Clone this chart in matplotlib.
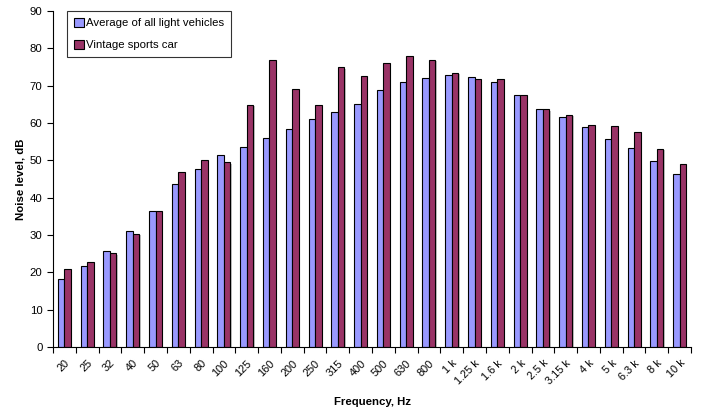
import numpy as np
import matplotlib
matplotlib.use("Agg")
import matplotlib.pyplot as plt
import matplotlib.patheffects as pe

plt.rcParams['font.family'] = ['Liberation Sans', 'DejaVu Sans']

freqs = ["20", "25", "32", "40", "50", "63", "80", "100", "125", "160", "200",
         "250", "315", "400", "500", "630", "800", "1 k", "1.25 k", "1.6 k",
         "2 k", "2.5 k", "3.15 k", "4 k", "5 k", "6.3 k", "8 k", "10 k"]
avg_light = [18.1, 21.6, 25.8, 31.0, 36.5, 43.7, 47.7, 51.3, 53.5, 55.9, 58.5,
             61.0, 62.9, 65.0, 68.8, 71.0, 72.0, 72.9, 72.4, 71.0, 67.4, 63.7,
             61.7, 58.8, 55.7, 53.2, 49.9, 46.3]
vintage = [20.8, 22.7, 25.1, 30.4, 36.3, 46.9, 50.2, 49.5, 64.9, 77.0, 69.2,
           64.7, 74.9, 72.5, 76.0, 78.0, 76.9, 73.4, 71.7, 71.8, 67.5, 63.7,
           62.2, 59.4, 59.1, 57.7, 53.1, 49.1]

fs = 8.2

fig = plt.figure(figsize=(7.01, 4.12), dpi=100)
ax = fig.add_axes([53 / 701, 65 / 412, 638 / 701, 336 / 412])

x = np.arange(len(freqs))
w = 0.285
shadow = [pe.SimplePatchShadow(offset=(1, -1), shadow_rgbFace='#999999', alpha=0.6), pe.Normal()]
ax.bar(x - w / 2, avg_light, w, color='#9999FF', edgecolor='black', linewidth=0.8,
       label='Average of all light vehicles', path_effects=shadow)
ax.bar(x + w / 2, vintage, w, color='#993366', edgecolor='black', linewidth=0.8,
       label='Vintage sports car', path_effects=shadow)

ax.set_xlim(-0.5, len(freqs) - 0.5)
ax.set_ylim(0, 90)
ax.set_yticks(range(0, 91, 10))
ax.set_xticks(x)
ax.set_xticklabels(freqs, rotation=45, ha='right', rotation_mode='anchor')
ax.set_xticks(np.arange(-0.5, len(freqs), 1), minor=True)
ax.tick_params(axis='x', which='major', length=0, pad=8, labelsize=fs - 0.3)
ax.tick_params(axis='x', which='minor', length=4, width=0.8)
ax.tick_params(axis='y', length=4, width=0.8, labelsize=fs)

for s in ['top', 'right']:
    ax.spines[s].set_visible(False)
for s in ['left', 'bottom']:
    ax.spines[s].set_linewidth(0.8)

ax.set_ylabel('Noise level, dB', fontsize=fs, fontweight='bold', labelpad=3)
ax.set_xlabel('Frequency, Hz', fontsize=fs, fontweight='bold', labelpad=8)

leg = ax.legend(loc='upper left', bbox_to_anchor=(14 / 638, 1.0), fontsize=fs,
                frameon=True, fancybox=False, edgecolor='black', handlelength=0.85,
                handleheight=0.85, handletextpad=0.2, borderpad=0.6, labelspacing=1.0,
                borderaxespad=0)
leg.get_frame().set_linewidth(0.8)

fig.savefig('out.png', dpi=100)
